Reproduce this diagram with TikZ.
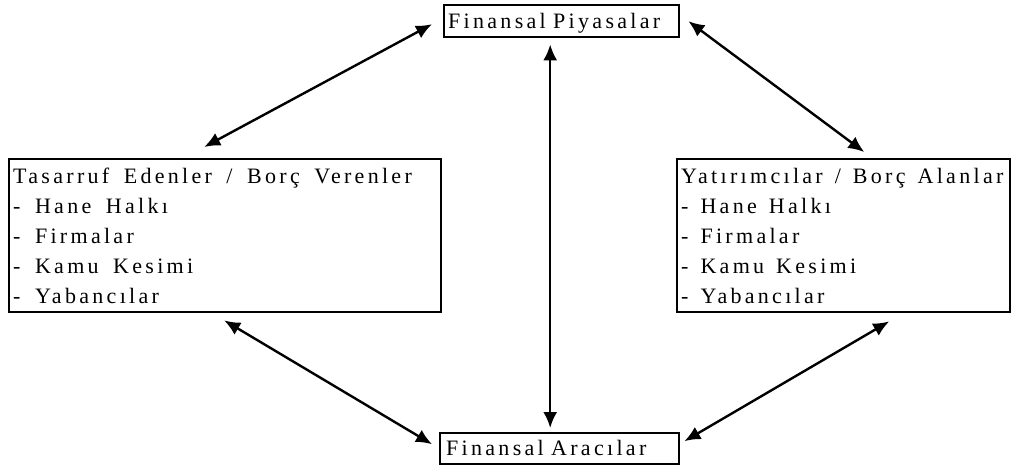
\documentclass[tikz,border=0pt]{standalone}
\usepackage{fontspec}
\setmainfont{Liberation Serif}[LetterSpace=15]
\usetikzlibrary{arrows.meta}
\newcommand\wsp{\nobreak\hspace{14.5pt}\nobreak}
\newcommand\wsr{\nobreak\hspace{12pt}\nobreak}
\hyphenpenalty=10000
\begin{document}
\begin{tikzpicture}[x=1pt,y=-1pt,
  box/.style={draw=black, line width=2.4pt, inner sep=0pt, anchor=north west},
  smallbox/.style={box, font=\fontsize{22}{30}\selectfont, text height=15pt, text depth=1pt, align=left},
  listbox/.style={box, font=\fontsize{22}{30}\selectfont, align=left, inner xsep=4pt},
  link/.style={line width=2.4pt, {Latex[length=16pt,width=14pt]}-{Latex[length=16pt,width=14pt]}}
]
\useasboundingbox (0,0) rectangle (1012,469);
\node[smallbox, minimum width=235, minimum height=32, text width=227, inner xsep=4pt] (T) at (443,4) {Finansal Piyasalar};
\node[smallbox, minimum width=239, minimum height=31, text width=227, inner xsep=6pt] (B) at (439,432) {Finansal Aracılar};
\node[listbox, minimum width=432, minimum height=153, text width=424] (L) at (8,158)
  {Tasarruf\wsp Edenler\wsp /\wsp Borç\wsp Verenler\\-\wsp Hane\wsp Halkı\\-\wsp Firmalar\\-\wsp Kamu\wsp Kesimi\\-\wsp Yabancılar};
\node[listbox, minimum width=333, minimum height=153, text width=325] (R) at (676,158)
  {\mbox{Yatırımcılar\wsr /\wsr Borç\wsr Alanlar}\\-\wsr Hane\wsr Halkı\\-\wsr Firmalar\\-\wsr Kamu\wsr Kesimi\\-\wsr Yabancılar};
\draw[link] ([shift={(-21,-11)}]L.north) -- ([shift={(-11,3)}]T.west);
\draw[link] ([shift={(8,0)}]T.east) -- ([shift={(20.5,-6)}]R.north);
\draw[link] ([shift={(-11.5,6)}]T.south) -- ([shift={(-9.5,-4)}]B.north);
\draw[link] ([shift={(-1,7)}]L.south) -- ([shift={(-7,-4.5)}]B.west);
\draw[link] ([shift={(45.5,8)}]R.south) -- ([shift={(4,-7.5)}]B.east);
\end{tikzpicture}
\end{document}
